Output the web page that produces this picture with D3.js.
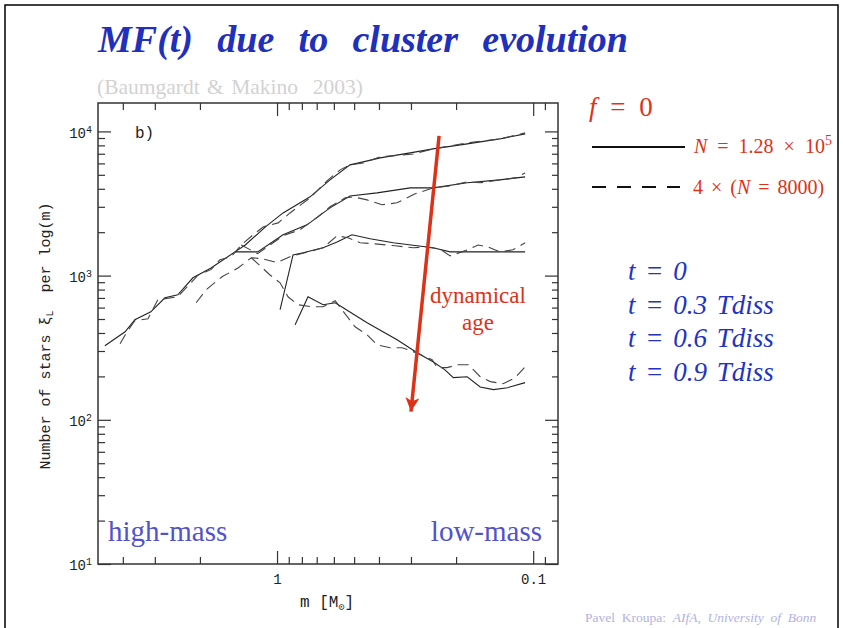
<!DOCTYPE html>
<html lang="en">
<head>
<meta charset="UTF-8">
<title>MF(t) due to cluster evolution</title>
<script src="https://d3js.org/d3.v7.min.js"></script>
<style>
  body { margin: 0; background: #fff; }
  svg { display: block; }
  .tick line { stroke: #333; stroke-width: 1.2px; }
  .mono { font-family: "Liberation Mono", "DejaVu Sans Mono", monospace; fill: #222; }
  .serif { font-family: "Liberation Serif", "Times New Roman", serif; }
  .curve { fill: none; stroke: #222; stroke-width: 1.1px; }
  .curve.dash { stroke: #444; stroke-dasharray: 11, 6; }
</style>
</head>
<body>
<svg width="843" height="628"></svg>
<script>
// mass function, [mass in Msun, number of stars per log(m)]
// solid: N = 1.28e5 run, dashed: 4 x (N = 8000) runs
const t0Solid = [[4.70,326],[3.92,408],[3.59,494],[3.11,561],[2.74,702],[2.44,736],[2.13,966],[1.81,1130],[1.46,1460],[1.33,1630],[1.11,2180],[0.947,2720],[0.743,3520],[0.621,4610],[0.519,5860],[0.461,6150],[0.396,6550],[0.302,7100],[0.246,7570],[0.181,8190],[0.135,8870],[0.1075,9610]];
const t0Dash = [[4.10,337],[3.85,408],[3.59,486],[3.19,502],[2.92,680],[2.44,713],[2.03,1010],[1.81,1100],[1.67,1290],[1.51,1350],[1.38,1630],[1.24,1920],[1.13,2180],[0.99,2320],[0.89,2720],[0.743,3460],[0.632,4610],[0.567,5410],[0.519,5860],[0.461,6050],[0.396,6660],[0.322,6870],[0.294,6980],[0.246,7570],[0.181,8320],[0.135,8870],[0.1075,9770]];
const t03Solid = [[1.46,1460],[1.19,1460],[0.947,1920],[0.764,2250],[0.621,2950],[0.519,3570],[0.407,3750],[0.302,4060],[0.246,4060],[0.181,4400],[0.135,4610],[0.1075,4840]];
const t03Dash = [[1.38,1630],[1.19,1420],[1.065,1630],[0.947,1890],[0.813,2080],[0.692,2560],[0.621,3000],[0.542,3460],[0.505,3520],[0.445,3350],[0.389,3100],[0.340,3200],[0.289,3690],[0.246,4060],[0.211,4190],[0.181,4470],[0.161,4400],[0.135,4610],[0.1175,4760],[0.1075,5150]];
const t06Solid = [[0.973,580],[0.866,1390],[0.791,1440],[0.661,1560],[0.583,1710],[0.510,1920],[0.433,1800],[0.352,1690],[0.284,1610],[0.246,1560],[0.211,1460],[0.1075,1460]];
const t06Dash = [[2.07,648],[1.89,798],[1.64,982],[1.42,1130],[1.26,1330],[1.14,1310],[1.00,1230],[0.874,1370],[0.778,1440],[0.661,1560],[0.583,1890],[0.528,1830],[0.474,1690],[0.414,1660],[0.346,1610],[0.294,1560],[0.264,1580],[0.231,1530],[0.211,1370],[0.184,1490],[0.164,1630],[0.150,1580],[0.135,1460],[0.120,1510],[0.1075,1690]];
const t09Solid = [[0.85,456],[0.757,713],[0.661,628],[0.593,648],[0.552,598],[0.445,471],[0.340,359],[0.284,292],[0.246,253],[0.221,222],[0.205,196],[0.181,199],[0.161,169],[0.143,162],[0.126,167],[0.1075,181]];
const t09Dash = [[1.26,1330],[1.14,1130],[1.065,1010],[0.973,892],[0.906,713],[0.828,628],[0.730,608],[0.661,608],[0.593,669],[0.496,442],[0.445,389],[0.407,331],[0.362,316],[0.325,316],[0.294,297],[0.248,261],[0.237,230],[0.217,230],[0.196,241],[0.179,241],[0.161,199],[0.147,184],[0.131,178],[0.1175,196],[0.1075,233]];

const xMajor = [1, 0.1];
const xMajorLabels = ["1", "0.1"];
const xMinor = [4, 3, 2, 0.9, 0.8, 0.7, 0.6, 0.5, 0.4, 0.3, 0.2, 0.09];
const yMajor = [10, 100, 1000, 10000];
const yMinor = [20,30,40,50,60,70,80,90,200,300,400,500,600,700,800,900,2000,3000,4000,5000,6000,7000,8000,9000];
const timeLabels = ["t = 0", "t = 0.3 Tdiss", "t = 0.6 Tdiss", "t = 0.9 Tdiss"];
const arrowFrom = [0.233, 9310];
const arrowTo = [0.30, 114];

const svg = d3.select("svg");
const red = "#dc3318";
const blue = "#2233c4";
const SERIF = "Liberation Serif, Times New Roman, serif";

// slide frame
svg.append("rect").attr("x", 5).attr("y", 5).attr("width", 833).attr("height", 700)
  .attr("fill", "none").attr("stroke", "#000").attr("stroke-width", 1.5);

// title
const title = svg.append("text").attr("font-family", SERIF)
  .attr("x", 98).attr("y", 52)
  .attr("font-size", 38).attr("font-weight", "bold").attr("font-style", "italic")
  .attr("fill", "#1f30bd")
  .text("MF(t) due to cluster evolution");
const tw = title.node().getComputedTextLength();
title.attr("word-spacing", (530 - tw) / 4);

svg.append("text").attr("font-family", SERIF)
  .attr("x", 97).attr("y", 94).attr("font-size", 21.5).attr("fill", "#d2d2d2")
  .attr("word-spacing", 2)
  .text("(Baumgardt & Makino  2003)").style("white-space", "pre");

// plot
const x = d3.scaleLog().domain([5, 0.08]).range([98, 558]);
const y = d3.scaleLog().domain([10, 15740]).range([564, 103]);

function ax(gen, tx, ty, vals, size) {
  const g = svg.append("g").attr("transform", `translate(${tx},${ty})`)
    .call(gen.tickValues(vals).tickSizeInner(size).tickSizeOuter(0).tickFormat(""));
  g.select(".domain").remove();
  return g;
}
ax(d3.axisBottom(x), 0, 564, xMinor, -7);
ax(d3.axisTop(x), 0, 103, xMinor, -7);
ax(d3.axisTop(x), 0, 103, xMajor, -13);
ax(d3.axisLeft(y), 98, 0, yMinor, -7);
ax(d3.axisRight(y), 558, 0, yMinor, -6);
ax(d3.axisRight(y), 558, 0, yMajor, -13);

const xb = ax(d3.axisBottom(x), 0, 564, xMajor, -13);
xb.selectAll("text").attr("font-size", 14).attr("dy", "1.2em")
  .attr("font-family", "Liberation Mono, monospace").attr("fill", "#222")
  .text((d, i) => xMajorLabels[i]);

const yl = ax(d3.axisLeft(y), 98, 0, yMajor, -13);
yl.selectAll("text").attr("font-family", "Liberation Mono, monospace").attr("font-size", 14)
  .attr("fill", "#222").attr("x", -6).attr("dy", "0.42em")
  .each(function (d) {
    const t = d3.select(this).text("10");
    t.append("tspan").attr("dy", -5).attr("font-size", 10).text(Math.round(Math.log10(d)));
  });

svg.append("rect").attr("x", 98).attr("y", 103).attr("width", 460).attr("height", 461)
  .attr("fill", "none").attr("stroke", "#333").attr("stroke-width", 1.5);

svg.append("text").attr("class", "mono").attr("x", 135).attr("y", 138).attr("font-size", 16).text("b)");

// axis labels
const ylab = svg.append("text").attr("class", "mono").attr("font-size", 15)
  .attr("text-anchor", "middle")
  .attr("transform", "translate(50,336) rotate(-90)")
  .style("white-space", "pre");
ylab.append("tspan").text("Number of stars \u03be");
ylab.append("tspan").attr("font-size", 10).attr("dy", 3).text("L");
ylab.append("tspan").attr("dy", -3).text("  per log(m)");

const xlab = svg.append("text").attr("class", "mono").attr("font-size", 16)
  .attr("x", 300).attr("y", 607);
xlab.append("tspan").text("m [M");
xlab.append("tspan").attr("font-size", 10).attr("dy", 3).text("\u2299");
xlab.append("tspan").attr("dy", -3).text("]");

// curves
const line = d3.line().x(d => x(d[0])).y(d => y(d[1]));
const curves = [
  [t0Solid, ""], [t0Dash, "dash"],
  [t03Solid, ""], [t03Dash, "dash"],
  [t06Solid, ""], [t06Dash, "dash"],
  [t09Solid, ""], [t09Dash, "dash"]
];
curves.forEach(([data, cls]) => {
  svg.append("path").datum(data).attr("class", "curve " + cls).attr("d", line);
});

// dynamical age arrow
svg.append("defs").append("marker").attr("id", "head")
  .attr("viewBox", "0 0 10 10").attr("refX", 10).attr("refY", 5)
  .attr("markerWidth", 16).attr("markerHeight", 14).attr("markerUnits", "userSpaceOnUse")
  .attr("orient", "auto")
  .append("path").attr("d", "M0,0 L10,5 L0,10 L2.5,5 Z").attr("fill", red);
svg.append("line")
  .attr("x1", x(arrowFrom[0])).attr("y1", y(arrowFrom[1]))
  .attr("x2", x(arrowTo[0])).attr("y2", y(arrowTo[1]))
  .attr("stroke", red).attr("stroke-width", 3.5).attr("marker-end", "url(#head)");

svg.append("text").attr("font-family", SERIF).attr("x", 478).attr("y", 303)
  .attr("text-anchor", "middle").attr("font-size", 23).attr("fill", red).text("dynamical");
svg.append("text").attr("font-family", SERIF).attr("x", 478).attr("y", 330)
  .attr("text-anchor", "middle").attr("font-size", 23).attr("fill", red).text("age");

svg.append("text").attr("font-family", SERIF).attr("x", 108).attr("y", 541)
  .attr("font-size", 29).attr("fill", "#5252cc").text("high-mass");
svg.append("text").attr("font-family", SERIF).attr("x", 542).attr("y", 541)
  .attr("text-anchor", "end").attr("font-size", 29).attr("fill", "#5252cc").text("low-mass");

// legend
const f0 = svg.append("text").attr("font-family", SERIF).attr("x", 589).attr("y", 116)
  .attr("font-size", 27).attr("fill", red).attr("word-spacing", 7);
f0.append("tspan").attr("font-style", "italic").text("f");
f0.append("tspan").text(" = 0");

svg.append("line").attr("x1", 592).attr("x2", 685).attr("y1", 147).attr("y2", 147)
  .attr("stroke", "#111").attr("stroke-width", 2.2);
const l1 = svg.append("text").attr("font-family", SERIF).attr("x", 694).attr("y", 153)
  .attr("font-size", 20).attr("fill", red).attr("word-spacing", 5);
l1.append("tspan").attr("font-style", "italic").text("N");
l1.append("tspan").text(" = 1.28 \u00d7 10");
l1.append("tspan").attr("font-size", 14).attr("dy", -8).text("5");

svg.append("line").attr("x1", 592).attr("x2", 680).attr("y1", 187).attr("y2", 187)
  .attr("stroke", "#111").attr("stroke-width", 2.2).attr("stroke-dasharray", "14,11");
const l2 = svg.append("text").attr("font-family", SERIF).attr("x", 693).attr("y", 194)
  .attr("font-size", 20).attr("fill", red).attr("word-spacing", 3);
l2.append("tspan").text("4 \u00d7 (");
l2.append("tspan").attr("font-style", "italic").text("N");
l2.append("tspan").text(" = 8000)");

timeLabels.forEach((t, i) => {
  svg.append("text").attr("font-family", SERIF).attr("x", 628).attr("y", 280 + i * 33.7)
    .attr("font-size", 27).attr("font-style", "italic").attr("fill", blue)
    .attr("word-spacing", 3).text(t);
});

// footer
const foot = svg.append("text").attr("font-family", SERIF).attr("x", 585).attr("y", 622)
  .attr("font-size", 13.5).attr("fill", "#b2b2e0").style("white-space", "pre");
foot.append("tspan").text("Pavel  Kroupa:  ");
foot.append("tspan").attr("font-style", "italic").text("AIfA,  University  of  Bonn");
</script>
</body>
</html>
